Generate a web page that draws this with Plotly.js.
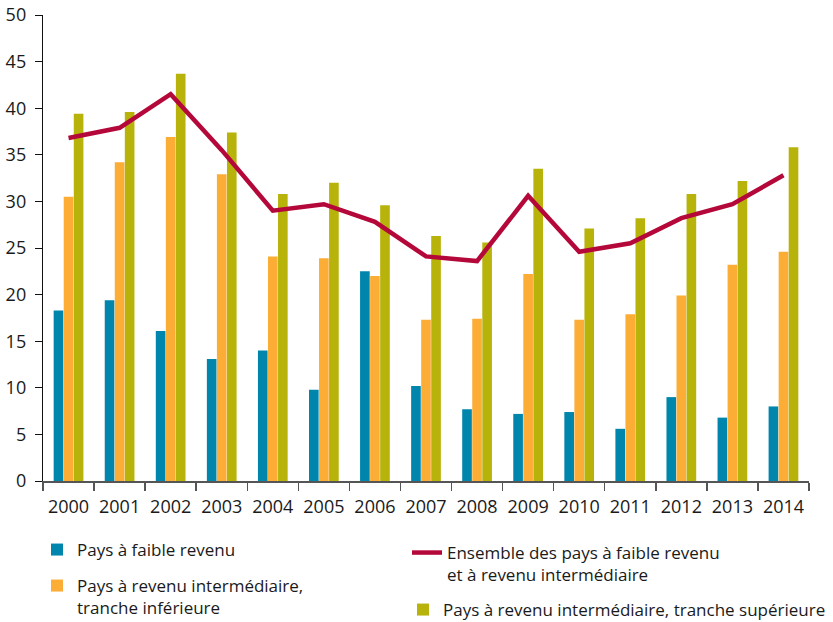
<!DOCTYPE html>
<html>
<head>
<meta charset="utf-8">
<script src="https://cdn.plot.ly/plotly-3.0.1.min.js"></script>
<style>html,body{margin:0;padding:0;background:#fff;}#chart{width:833px;height:622px;}</style>
</head>
<body>
<div id="chart"></div>
<script>
const years = ["2000","2001","2002","2003","2004","2005","2006","2007","2008","2009","2010","2011","2012","2013","2014"];
const faible = [18.3, 19.4, 16.1, 13.1, 14.0, 9.8, 22.5, 10.2, 7.7, 7.2, 7.4, 5.6, 9.0, 6.8, 8.0];
const interInf = [30.5, 34.2, 36.9, 32.9, 24.1, 23.9, 22.0, 17.3, 17.4, 22.2, 17.3, 17.9, 19.9, 23.2, 24.6];
const interSup = [39.4, 39.6, 43.7, 37.4, 30.8, 32.0, 29.6, 26.3, 25.6, 33.5, 27.1, 28.2, 30.8, 32.2, 35.8];
const ensemble = [36.8, 37.9, 41.5, 35.5, 29.0, 29.7, 27.8, 24.1, 23.6, 30.6, 24.6, 25.5, 28.2, 29.7, 32.8];
const yTicks = [0,5,10,15,20,25,30,35,40,45,50];

const names = {
  faible: "Pays à faible revenu",
  inf: "Pays à revenu intermédiaire,<br>tranche inférieure",
  ens: "Ensemble des pays à faible revenu<br>et à revenu intermédiaire",
  sup: "Pays à revenu intermédiaire, tranche supérieure"
};

const FONT = "'Open Sans', 'Noto Sans', sans-serif";
const TXT = "#1a1a1a";

const traces = [
  {type:"bar", x:years, y:faible, name:names.faible, marker:{color:"#0085ad"}, legend:"legend"},
  {type:"bar", x:years, y:interInf, name:names.inf, marker:{color:"#fbad36"}, legend:"legend2"},
  {type:"bar", x:years, y:interSup, name:names.sup, marker:{color:"#b8b30a"}, legend:"legend4"},
  {type:"scatter", mode:"lines", x:years, y:ensemble, name:names.ens,
   line:{color:"#b5083a", width:4.5}, legend:"legend3"}
];

function lg(xPx, topPx, size){
  return {x: xPx/833, y: 1 - topPx/622, xref:"container", yref:"container",
          xanchor:"left", yanchor:"top", bgcolor:"rgba(0,0,0,0)", borderwidth:0,
          valign:"top", font:{family:FONT, size:size || 17, color:TXT}, tracegroupgap:0};
}

const layout = {
  width:833, height:622,
  margin:{l:43, r:24, t:15, b:141, autoexpand:false},
  paper_bgcolor:"#fff", plot_bgcolor:"#fff",
  barmode:"group", bargap:0.41, bargroupgap:0.04,
  font:{family:FONT, size:17, color:TXT},
  showlegend:true,
  xaxis:{type:"category", tickson:"boundaries", ticks:"outside", ticklen:8, tickwidth:1.5,
         tickcolor:"#555", showline:true, linecolor:"#555", linewidth:2, showgrid:false,
         zeroline:false, automargin:false, ticklabelstandoff:8,
         tickfont:{family:FONT, size:18, color:TXT}, fixedrange:true},
  yaxis:{range:[0,50], tickvals:yTicks, ticktext:yTicks.map(String), ticks:"outside", ticklen:7,
         tickcolor:"#111", showline:true, linecolor:"#111", linewidth:1.2, showgrid:false,
         zeroline:false, automargin:false, ticklabelstandoff:5,
         tickfont:{family:FONT, size:18, color:TXT}, fixedrange:true},
  legend: lg(37, 532),
  legend2: lg(37, 568),
  legend3: lg(407, 535),
  legend4: lg(403, 592, 17)
};

Plotly.newPlot("chart", traces, layout, {staticPlot:true, displayModeBar:false});
</script>
</body>
</html>
